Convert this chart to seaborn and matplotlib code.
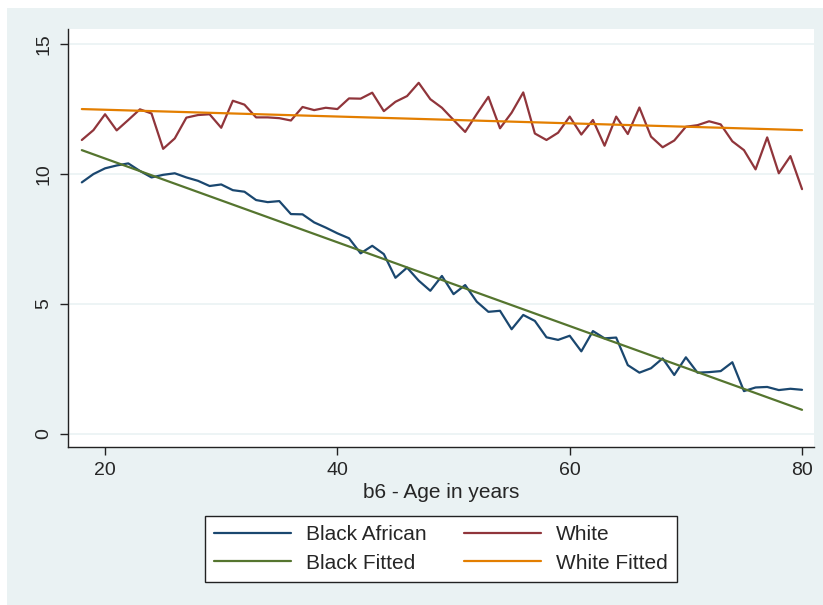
import numpy as np
import pandas as pd
import matplotlib
matplotlib.use("Agg")
import matplotlib.pyplot as plt
from matplotlib.patches import Rectangle
from matplotlib.lines import Line2D
import seaborn as sns

ages = list(range(18, 81))
black_african = [9.68, 10.0, 10.22, 10.33, 10.41, 10.12, 9.87, 9.97, 10.03, 9.87,
                 9.74, 9.54, 9.60, 9.38, 9.32, 9.00, 8.92, 8.96, 8.46, 8.45,
                 8.14, 7.94, 7.72, 7.53, 6.95, 7.24, 6.92, 6.01, 6.40, 5.90,
                 5.51, 6.08, 5.38, 5.73, 5.09, 4.70, 4.74, 4.03, 4.58, 4.35,
                 3.72, 3.62, 3.78, 3.18, 3.96, 3.68, 3.71, 2.65, 2.36, 2.53,
                 2.91, 2.27, 2.95, 2.36, 2.38, 2.42, 2.76, 1.65, 1.79, 1.81,
                 1.69, 1.74, 1.70]
white = [11.31, 11.69, 12.30, 11.68, 12.08, 12.49, 12.33, 10.97, 11.37, 12.17,
         12.27, 12.30, 11.78, 12.82, 12.67, 12.18, 12.18, 12.15, 12.06, 12.58,
         12.46, 12.55, 12.50, 12.91, 12.90, 13.13, 12.42, 12.78, 13.00, 13.51,
         12.88, 12.55, 12.08, 11.62, 12.31, 12.97, 11.76, 12.36, 13.14, 11.56,
         11.31, 11.59, 12.21, 11.52, 12.08, 11.09, 12.21, 11.54, 12.56, 11.44,
         11.03, 11.29, 11.82, 11.88, 12.03, 11.91, 11.26, 10.92, 10.18, 11.41,
         10.03, 10.69, 9.42]
fit_ages = [18, 80]
black_fitted = [10.92, 0.93]
white_fitted = [12.50, 11.69]

series_names = ["Black African", "Black Fitted", "White", "White Fitted"]
colors = ["#1a476f", "#55752f", "#90353b", "#e37e00"]

df = pd.concat([
    pd.DataFrame({"age": ages, "value": black_african, "series": "Black African"}),
    pd.DataFrame({"age": fit_ages, "value": black_fitted, "series": "Black Fitted"}),
    pd.DataFrame({"age": ages, "value": white, "series": "White"}),
    pd.DataFrame({"age": fit_ages, "value": white_fitted, "series": "White Fitted"}),
], ignore_index=True)

sns.set_style("white")
plt.rcParams["font.family"] = ["Liberation Sans", "DejaVu Sans"]

fig = plt.figure(figsize=(8.23, 6.05), dpi=100, facecolor="white")
fig.patches.append(Rectangle((7 / 823, 0), 1, 1 - 8 / 605, transform=fig.transFigure,
                             facecolor="#eaf2f3", edgecolor="none", zorder=-10))
ax = fig.add_axes([68 / 823, 1 - 447 / 605, (814 - 68) / 823, (447 - 29) / 605])
ax.set_facecolor("white")

sns.lineplot(data=df, x="age", y="value", hue="series", hue_order=series_names,
             palette=dict(zip(series_names, colors)), linewidth=1.6, ax=ax,
             legend=False, estimator=None, sort=True)

ax.set_xlim(16.81, 81.03)
ax.set_ylim(-0.5, 15.58)
ax.set_xticks([20, 40, 60, 80])
ax.set_yticks([0, 5, 10, 15])
ax.grid(axis="y", color="#eaf2f3", linewidth=1.2)
ax.grid(axis="x", visible=False)
for s in ["top", "right"]:
    ax.spines[s].set_visible(False)
for s in ["left", "bottom"]:
    ax.spines[s].set_color("#222222")
    ax.spines[s].set_linewidth(1.0)
ax.tick_params(axis="both", direction="out", length=6, width=1.0, color="#222222",
               labelsize=14, pad=5, left=True, bottom=True)
for lab in ax.get_yticklabels():
    lab.set_rotation(90)
    lab.set_va("center")
ax.set_xlabel("b6 - Age in years", fontsize=15, labelpad=3)
ax.set_ylabel("")

handles = [Line2D([], [], color=c, linewidth=1.6) for c in colors]
leg = fig.legend(handles, series_names, ncol=2, loc="center",
                 bbox_to_anchor=(441 / 823, 1 - 549 / 605), frameon=True,
                 fontsize=15, handlelength=3.7, columnspacing=1.8,
                 handletextpad=0.7, borderpad=0.45, labelspacing=0.45,
                 borderaxespad=0, fancybox=False, edgecolor="#222222",
                 facecolor="white", framealpha=1.0)
leg.get_frame().set_linewidth(1.0)

fig.savefig("out.png", dpi=100, facecolor=fig.get_facecolor())
